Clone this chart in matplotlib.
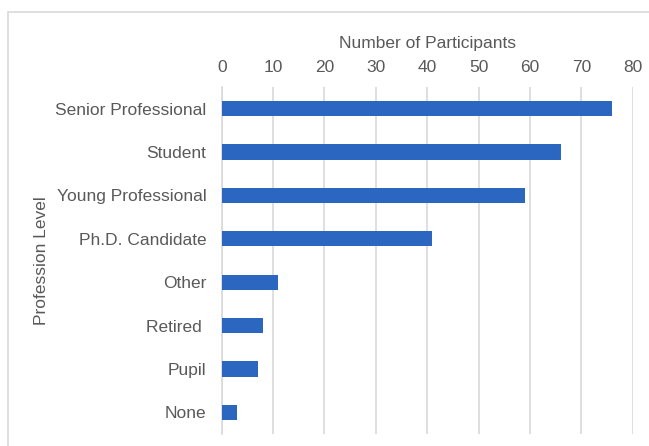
import matplotlib
matplotlib.use("Agg")
import matplotlib.pyplot as plt
from matplotlib.patches import Rectangle

categories = ["Senior Professional", "Student", "Young Professional", "Ph.D. Candidate",
              "Other", "Retired ", "Pupil", "None"]
participants = [76, 66, 59, 41, 11, 8, 7, 3]
x_ticks = [0, 10, 20, 30, 40, 50, 60, 70, 80]

plt.rcParams["font.family"] = ["Liberation Sans", "DejaVu Sans"]
text_color = "#595959"
grid_color = "#D9D9D9"
bar_color = "#2B67C0"
fs = 12.5

W, H = 649, 446
fig = plt.figure(figsize=(W / 100, H / 100), dpi=100)

# chart frame (open to the right and bottom)
fig.patches.append(Rectangle((8 / W, -0.1), 1.2, 1.1 - 12 / H, transform=fig.transFigure,
                             fill=False, edgecolor="#D9D9D9", linewidth=1.2))

left, right, top, bottom = 221.7, 632.7, 87, 434
ax = fig.add_axes([left / W, 1 - bottom / H, (right - left) / W, (bottom - top) / H])

y = list(range(len(categories)))
ax.barh(y, participants, height=0.35, color=bar_color, zorder=3)
ax.set_ylim(len(categories) - 0.5, -0.5)
ax.set_xlim(0, 80)
ax.set_xticks(x_ticks)
ax.set_yticks(y)
ax.set_yticklabels(categories)

ax.xaxis.tick_top()
ax.xaxis.set_label_position("top")
ax.tick_params(axis="both", length=0, labelsize=fs, colors=text_color)
ax.tick_params(axis="x", pad=9)
ax.tick_params(axis="y", pad=11)
ax.grid(axis="x", color=grid_color, linewidth=1.2, zorder=0)

for side in ["top", "right", "bottom"]:
    ax.spines[side].set_visible(False)
ax.spines["left"].set_color(grid_color)
ax.spines["left"].set_linewidth(1.2)

ax.set_xlabel("Number of Participants", fontsize=fs, color=text_color, labelpad=8)
ax.set_ylabel("Profession Level", fontsize=fs, color=text_color, labelpad=4.5)

fig.savefig("out.png", dpi=100)
